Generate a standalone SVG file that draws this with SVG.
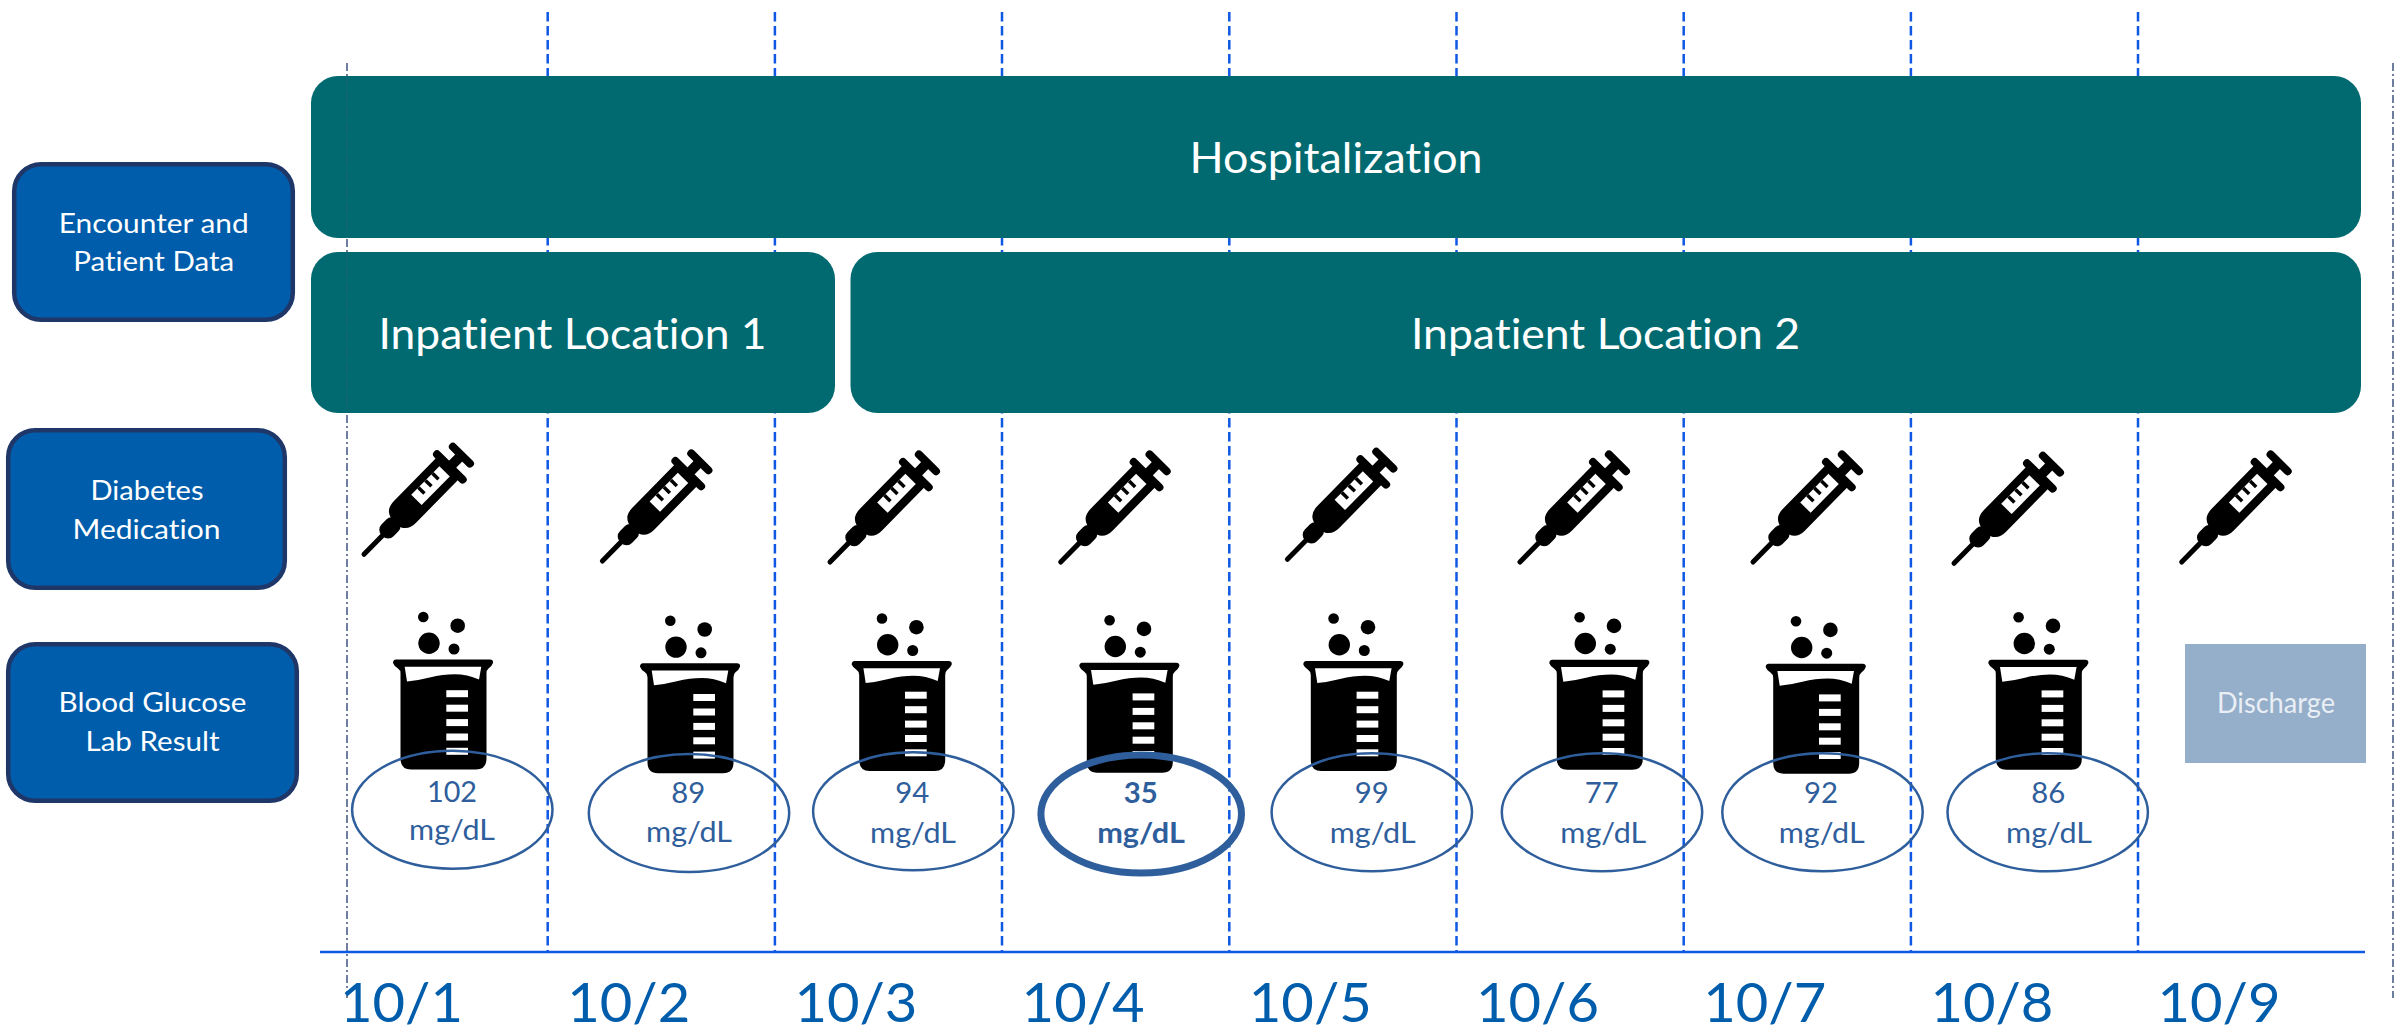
<svg xmlns="http://www.w3.org/2000/svg" width="2394" height="1031" viewBox="0 0 2394 1031">
<style>
text{font-family:"Lato","Carlito","Liberation Sans",sans-serif;text-anchor:middle;font-variant-ligatures:none}
.teal{fill:#006a70}
.side{fill:#005dab;stroke:#1f3768;stroke-width:4.5}
.wl{fill:#fff;font-size:43px}
.ws{fill:#fff;font-size:27px}
.val{fill:#2f5e9c;font-size:28px}
.b{font-weight:700}
.date{fill:#005dab;font-size:55px}
.oval{fill:none;stroke:#2f5e9c;stroke-width:2.5}
.oval.hi{stroke-width:7}
.day{stroke:#0f58e4;stroke-width:2.5;stroke-dasharray:9.5 4.5;fill:none}
.guide{stroke:#4a5f85;stroke-width:1.6;stroke-dasharray:8 3 2 3;fill:none}
</style>
<defs>
<g id="syr">
<line x1="1" y1="0" x2="32" y2="0" stroke="#000" stroke-width="5" stroke-linecap="round"/>
<rect x="27" y="-8.5" width="22" height="17" rx="7.5"/>
<path d="M45 0Q45-16 60-16H124V15H60Q45 15 45 0Z"/>
<line x1="123.5" y1="-18" x2="123.5" y2="18" stroke="#000" stroke-width="8" stroke-linecap="round"/>
<rect x="121" y="-5" width="19" height="10"/>
<line x1="140" y1="-12" x2="140" y2="12" stroke="#000" stroke-width="8" stroke-linecap="round"/>
<rect x="76.5" y="-8" width="40.2" height="14.6" fill="#fff"/>
<rect x="85" y="-8" width="3.5" height="8.5"/>
<rect x="95" y="-8" width="3.5" height="8.5"/>
<rect x="105" y="-8" width="3.5" height="8.5"/>
</g>
<g id="bkr">
<circle cx="30.3" cy="-42.5" r="5.3"/><circle cx="64.7" cy="-33.8" r="7.3"/><circle cx="36" cy="-16.2" r="10.7"/><circle cx="61" cy="-10.5" r="5.5"/>
<path d="M3 0H97Q100.5 0 100 3.5Q99 6.5 95.5 9Q93.5 10.5 93.5 14V99Q93.5 110 83 110H18Q7.5 110 7.5 99V14Q7.5 10.5 5 9Q1 6.5 0 3.5Q0 0 3 0Z"/>
<path d="M11.7 7.3H88.3L86 20Q74 14.7 61.7 14.7Q50 14.7 36.7 18Q25 21 14 22Z" fill="#fff"/>
<g fill="#fff"><rect x="53.3" y="30.7" width="21.7" height="7"/><rect x="53.3" y="45.2" width="21.7" height="7"/><rect x="53.3" y="59.6" width="21.7" height="7"/><rect x="53.3" y="74" width="21.7" height="7"/><rect x="53.3" y="88.3" width="21.7" height="7"/></g>
</g>
</defs>

<g id="connectors">
<path class="guide" d="M347 63V998"/>
<path class="guide" d="M2393 63V998"/>
<path class="day" d="M547.7 12V952M774.9 12V952M1002 12V952M1229.3 12V952M1456.5 12V952M1683.7 12V952M1910.9 12V952M2138 12V952"/>
<path d="M320 952H2365" stroke="#0f58e4" stroke-width="2.5" fill="none"/>
</g>

<g id="hospitalization"><rect class="teal" x="311" y="76" width="2050" height="162" rx="27"/><text class="wl" x="1336" y="172.7" textLength="293" lengthAdjust="spacingAndGlyphs">Hospitalization</text></g>
<g id="location-1"><rect class="teal" x="311" y="252" width="524" height="161" rx="27"/><text class="wl" x="572.5" y="349" textLength="388" lengthAdjust="spacingAndGlyphs">Inpatient Location 1</text></g>
<g id="location-2"><rect class="teal" x="850.5" y="252" width="1510.5" height="161" rx="27"/><text class="wl" x="1605.5" y="349" textLength="389" lengthAdjust="spacingAndGlyphs">Inpatient Location 2</text></g>
<path id="guide-over-bars" d="M347 76V238M347 252V413" stroke="#4a5f85" stroke-width="1.4" stroke-dasharray="8 3 2 3" opacity=".3" fill="none"/>

<g id="side-encounter"><rect class="side" x="14.2" y="164.2" width="278.6" height="155.6" rx="27"/><text class="ws" x="153.7" y="232.7" textLength="190" lengthAdjust="spacingAndGlyphs">Encounter and</text><text class="ws" x="153.7" y="271" textLength="161" lengthAdjust="spacingAndGlyphs">Patient Data</text></g>
<g id="side-medication"><rect class="side" x="8.2" y="430.2" width="276.6" height="157.6" rx="27"/><text class="ws" x="147" y="500" textLength="113" lengthAdjust="spacingAndGlyphs">Diabetes</text><text class="ws" x="146.5" y="539" textLength="148" lengthAdjust="spacingAndGlyphs">Medication</text></g>
<g id="side-glucose"><rect class="side" x="8.2" y="644.2" width="288.6" height="156.6" rx="27"/><text class="ws" x="152.5" y="712" textLength="188" lengthAdjust="spacingAndGlyphs">Blood Glucose</text><text class="ws" x="152.5" y="751" textLength="134" lengthAdjust="spacingAndGlyphs">Lab Result</text></g>

<g id="syringe-1"><use href="#syr" transform="translate(363.3 555) rotate(-45.5)"/></g>
<g id="syringe-2"><use href="#syr" transform="translate(601.7 561.7) rotate(-45.5)"/></g>
<g id="syringe-3"><use href="#syr" transform="translate(829.3 562.7) rotate(-45.5)"/></g>
<g id="syringe-4"><use href="#syr" transform="translate(1060 562.7) rotate(-45.5)"/></g>
<g id="syringe-5"><use href="#syr" transform="translate(1286.7 560) rotate(-45.5)"/></g>
<g id="syringe-6"><use href="#syr" transform="translate(1519.3 562.7) rotate(-45.5)"/></g>
<g id="syringe-7"><use href="#syr" transform="translate(1752.3 562.7) rotate(-45.5)"/></g>
<g id="syringe-8"><use href="#syr" transform="translate(1953.3 564) rotate(-45.5)"/></g>
<g id="syringe-9"><use href="#syr" transform="translate(2181 562.7) rotate(-45.5)"/></g>

<g id="lab-1"><use href="#bkr" transform="translate(393 659.5)"/><ellipse class="oval" cx="452.3" cy="809.7" rx="100.2" ry="59"/><text class="val" x="452" y="801.7" textLength="50" lengthAdjust="spacingAndGlyphs">102</text><text class="val" x="452" y="840" textLength="86" lengthAdjust="spacingAndGlyphs">mg/dL</text></g>
<g id="lab-2"><use href="#bkr" transform="translate(640 663.3)"/><ellipse class="oval" cx="689" cy="813" rx="100.2" ry="59"/><text class="val" x="688.3" y="803" textLength="34" lengthAdjust="spacingAndGlyphs">89</text><text class="val" x="689" y="842" textLength="86" lengthAdjust="spacingAndGlyphs">mg/dL</text></g>
<g id="lab-3"><use href="#bkr" transform="translate(851.7 661)"/><ellipse class="oval" cx="913.3" cy="811.3" rx="100.2" ry="59"/><text class="val" x="912.3" y="802.7" textLength="34" lengthAdjust="spacingAndGlyphs">94</text><text class="val" x="913" y="842.7" textLength="86" lengthAdjust="spacingAndGlyphs">mg/dL</text></g>
<g id="lab-4"><use href="#bkr" transform="translate(1079.3 662.7)"/><ellipse class="oval hi" cx="1141.2" cy="814" rx="100.3" ry="59"/><text class="val b" x="1140.7" y="803.3" textLength="34" lengthAdjust="spacingAndGlyphs">35</text><text class="val b" x="1141" y="843" textLength="87.7" lengthAdjust="spacingAndGlyphs">mg/dL</text></g>
<g id="lab-5"><use href="#bkr" transform="translate(1303.3 661)"/><ellipse class="oval" cx="1371.8" cy="812.3" rx="100.2" ry="59"/><text class="val" x="1371.7" y="803.3" textLength="34" lengthAdjust="spacingAndGlyphs">99</text><text class="val" x="1372.7" y="843" textLength="86" lengthAdjust="spacingAndGlyphs">mg/dL</text></g>
<g id="lab-6"><use href="#bkr" transform="translate(1549.3 659.7)"/><ellipse class="oval" cx="1602" cy="812.3" rx="100.2" ry="59"/><text class="val" x="1601.7" y="803.3" textLength="34" lengthAdjust="spacingAndGlyphs">77</text><text class="val" x="1603.3" y="843" textLength="86" lengthAdjust="spacingAndGlyphs">mg/dL</text></g>
<g id="lab-7"><use href="#bkr" transform="translate(1765.7 663.7)"/><ellipse class="oval" cx="1822.5" cy="812.3" rx="100.2" ry="59"/><text class="val" x="1821" y="803.3" textLength="34" lengthAdjust="spacingAndGlyphs">92</text><text class="val" x="1821.7" y="843" textLength="86" lengthAdjust="spacingAndGlyphs">mg/dL</text></g>
<g id="lab-8"><use href="#bkr" transform="translate(1988.3 659.7)"/><ellipse class="oval" cx="2047.7" cy="812.3" rx="100.2" ry="59"/><text class="val" x="2048.3" y="803.3" textLength="34" lengthAdjust="spacingAndGlyphs">86</text><text class="val" x="2049" y="843" textLength="86" lengthAdjust="spacingAndGlyphs">mg/dL</text></g>

<g id="discharge"><rect x="2185" y="644" width="181" height="119" fill="#95aeca"/><text x="2276" y="713" fill="#e9eff5" font-size="28" textLength="118" lengthAdjust="spacingAndGlyphs">Discharge</text></g>

<g id="dates">
<text class="date" x="401.5" y="1021.7" textLength="123" lengthAdjust="spacingAndGlyphs">10/1</text>
<text class="date" x="628.7" y="1021.7" textLength="123" lengthAdjust="spacingAndGlyphs">10/2</text>
<text class="date" x="855.9" y="1021.7" textLength="123" lengthAdjust="spacingAndGlyphs">10/3</text>
<text class="date" x="1083.1" y="1021.7" textLength="123" lengthAdjust="spacingAndGlyphs">10/4</text>
<text class="date" x="1310.3" y="1021.7" textLength="123" lengthAdjust="spacingAndGlyphs">10/5</text>
<text class="date" x="1537.5" y="1021.7" textLength="123" lengthAdjust="spacingAndGlyphs">10/6</text>
<text class="date" x="1764.7" y="1021.7" textLength="123" lengthAdjust="spacingAndGlyphs">10/7</text>
<text class="date" x="1991.9" y="1021.7" textLength="123" lengthAdjust="spacingAndGlyphs">10/8</text>
<text class="date" x="2219" y="1021.7" textLength="123" lengthAdjust="spacingAndGlyphs">10/9</text>
</g>
</svg>
